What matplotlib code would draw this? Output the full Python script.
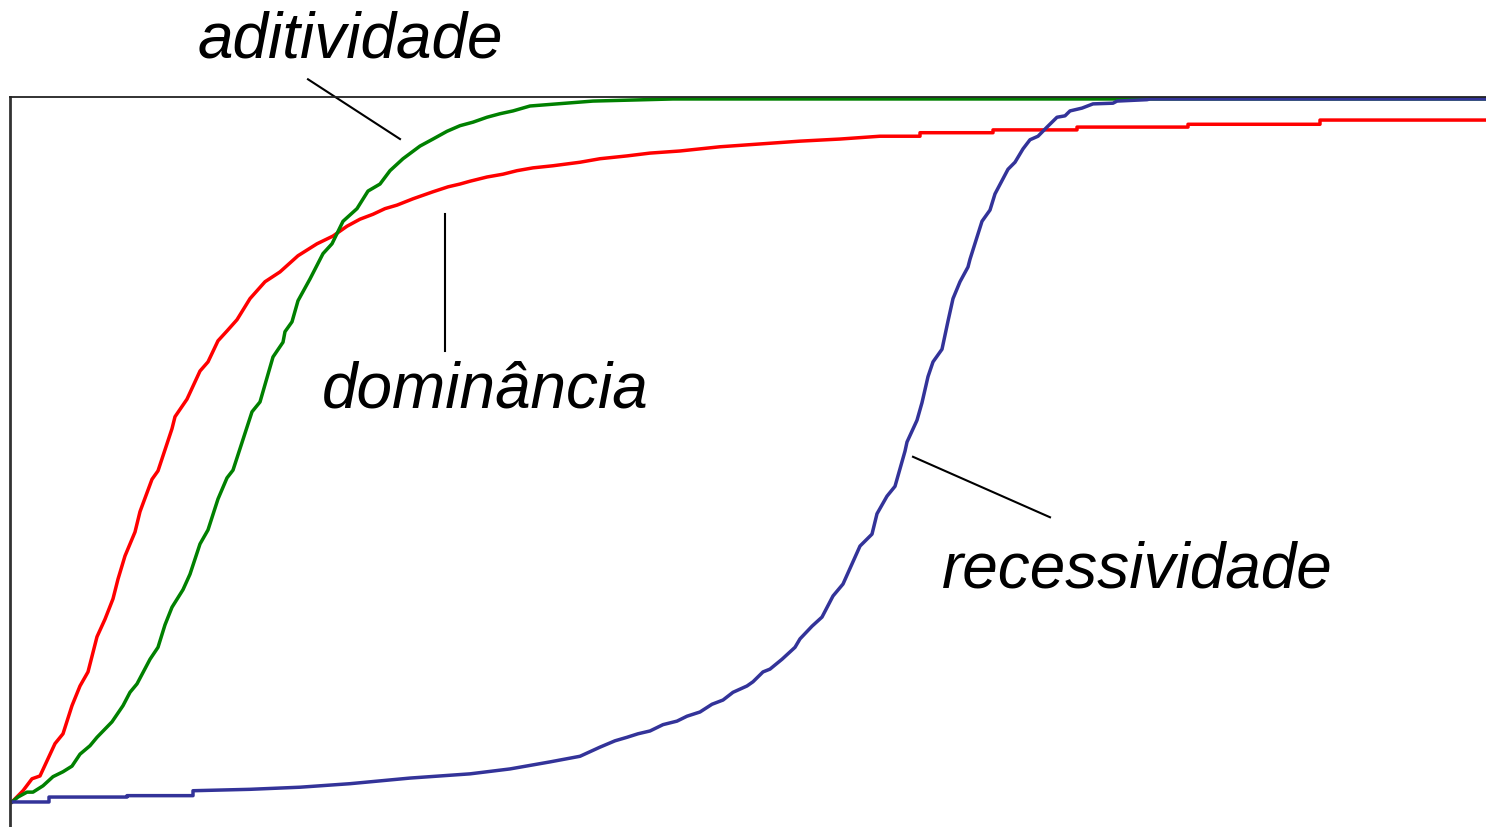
import numpy as np
import matplotlib
matplotlib.use("Agg")
import matplotlib.pyplot as plt

# allele frequency over generations for the three gene-action models
dom_gen = [0, 11, 20, 28, 43, 51, 60, 68, 76, 85, 93, 101, 106, 113, 123, 128,
           140, 146, 160, 163, 175, 188, 196, 206, 215, 225, 238, 253, 268, 286,
           305, 321, 335, 348, 361, 373, 385, 401, 421, 436, 448, 458, 475, 491,
           505, 521, 541, 568, 588, 615, 638, 668, 708, 748, 788, 828, 868, 908,
           908, 981, 981, 1065, 1065, 1176, 1176, 1308, 1308, 1474]
dom_freq = [0, 0.016, 0.033, 0.037, 0.083, 0.097, 0.137, 0.165, 0.185, 0.235,
            0.260, 0.289, 0.317, 0.350, 0.384, 0.413, 0.459, 0.471, 0.531, 0.548,
            0.573, 0.613, 0.626, 0.656, 0.670, 0.686, 0.716, 0.740, 0.754, 0.777,
            0.794, 0.805, 0.819, 0.829, 0.836, 0.844, 0.849, 0.858, 0.868, 0.875,
            0.879, 0.883, 0.889, 0.893, 0.898, 0.902, 0.905, 0.910, 0.915, 0.919,
            0.923, 0.926, 0.932, 0.936, 0.940, 0.943, 0.947, 0.947,
            0.952, 0.952, 0.956, 0.956, 0.960, 0.960, 0.964, 0.964, 0.970, 0.970]

add_gen = [0, 6, 15, 21, 31, 41, 51, 60, 68, 78, 85, 100, 111, 118, 125, 138,
           146, 153, 160, 171, 178, 188, 196, 206, 215, 221, 240, 248, 261, 271,
           273, 280, 286, 298, 311, 320, 331, 345, 356, 368, 378, 391, 408, 421,
           435, 448, 461, 475, 488, 501, 518, 545, 581, 661, 1474]
add_freq = [0, 0.007, 0.014, 0.014, 0.023, 0.036, 0.043, 0.051, 0.068, 0.080,
            0.092, 0.114, 0.137, 0.156, 0.168, 0.203, 0.220, 0.252, 0.277, 0.302,
            0.324, 0.367, 0.387, 0.431, 0.461, 0.472, 0.555, 0.569, 0.633, 0.654,
            0.669, 0.683, 0.713, 0.744, 0.780, 0.794, 0.826, 0.844, 0.869, 0.879,
            0.898, 0.915, 0.933, 0.943, 0.954, 0.962, 0.967, 0.974, 0.979, 0.983,
            0.990, 0.993, 0.997, 1.0, 1.0]

rec_gen = [0, 37, 37, 115, 115, 181, 181, 238, 288, 338, 398, 458, 498, 538, 568,
           588, 603, 615, 626, 638, 651, 665, 675, 688, 700, 711, 721, 735, 741,
           751, 758, 770, 783, 788, 800, 810, 821, 831, 848, 860, 865, 875, 883,
           893, 895, 905, 910, 916, 921, 930, 936, 941, 948, 956, 958, 970, 978,
           983, 996, 1003, 1011, 1018, 1026, 1035, 1045, 1053, 1058, 1070, 1081,
           1101, 1105, 1135, 1138, 1474]
rec_freq = [0, 0, 0.007, 0.007, 0.009, 0.009, 0.016, 0.018, 0.021, 0.026, 0.034,
            0.040, 0.047, 0.057, 0.065, 0.078, 0.087, 0.092, 0.097, 0.101, 0.110,
            0.115, 0.122, 0.128, 0.139, 0.145, 0.156, 0.165, 0.171, 0.185, 0.189,
            0.203, 0.220, 0.232, 0.250, 0.263, 0.293, 0.310, 0.364, 0.381, 0.410,
            0.435, 0.449, 0.499, 0.512, 0.543, 0.568, 0.605, 0.626, 0.644, 0.684,
            0.716, 0.740, 0.761, 0.772, 0.826, 0.842, 0.865, 0.900, 0.910, 0.929,
            0.942, 0.947, 0.960, 0.974, 0.976, 0.983, 0.987, 0.993, 0.994, 0.997,
            0.999, 1.0, 1.0]

labels = ["aditividade", "dominância", "recessividade"]
label_pos = [(338, 1.060), (473, 0.563), (1125, 0.306)]
leaders = [((296, 388), (1.028, 0.943)),
           ((433, 433), (0.836, 0.642)),
           ((901, 1038), (0.491, 0.405))]

fig = plt.figure(figsize=(14.86, 8.28), dpi=100)
ax = fig.add_axes([10 / 1486, 0, 1476 / 1486, 730 / 828])

ax.plot(dom_gen, dom_freq, color="#ff0000", lw=2.5)
ax.plot(add_gen, add_freq, color="#008000", lw=2.5)
ax.plot(rec_gen, rec_freq, color="#333399", lw=2.5)

for (lx, ly) in leaders:
    ax.plot(lx, ly, color="black", lw=1.5, clip_on=False)

for text, (tx, ty) in zip(labels, label_pos):
    ax.text(tx, ty, text, ha="center", va="baseline", fontsize=46,
            style="italic", family="Liberation Sans", clip_on=False)

ax.set_xlim(-2, 1474)
ax.set_ylim(-0.0356, 1.0028)
ax.set_xticks([])
ax.set_yticks([])
ax.spines["right"].set_visible(False)
ax.spines["bottom"].set_visible(False)
ax.spines["left"].set_linewidth(2.0)
ax.spines["top"].set_linewidth(1.3)
ax.spines["left"].set_color("#333333")
ax.spines["top"].set_color("#222222")

fig.savefig("out.png", dpi=100)
